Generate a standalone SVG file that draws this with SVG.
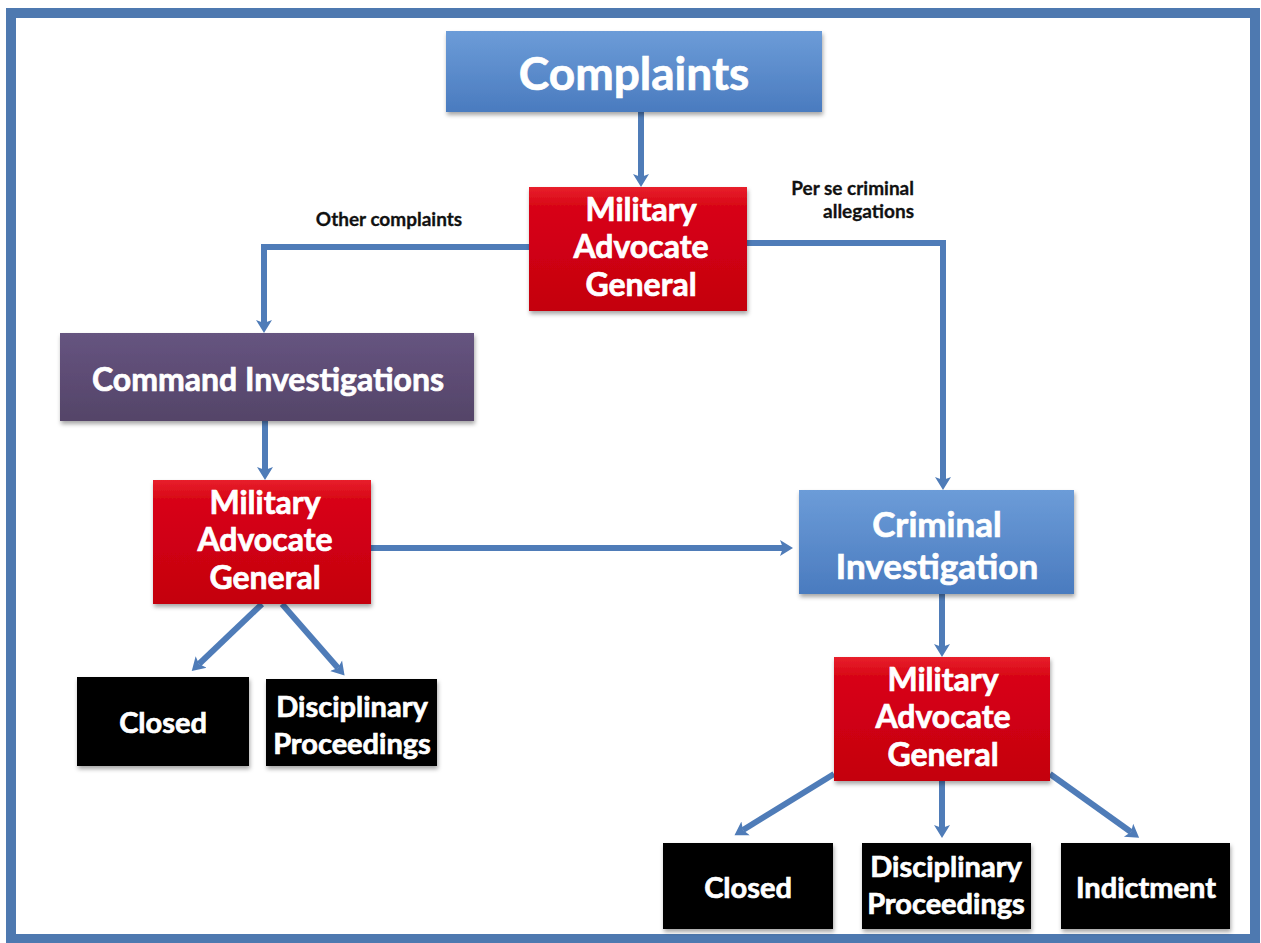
<svg xmlns="http://www.w3.org/2000/svg" width="1261" height="943" viewBox="0 0 1261 943">
<style>
.t{font-family:Lato,"Open Sans","Liberation Sans",sans-serif;font-weight:bold;fill:#fff;stroke:#fff;stroke-width:0.7;text-anchor:middle}
.lbl{font-family:Lato,"Open Sans","Liberation Sans",sans-serif;font-weight:bold;fill:#111;stroke:#111;stroke-width:0.3;font-size:19px}
.conn{fill:none;stroke:#4f7cb8;stroke-width:6}
.box{filter:url(#sh)}
</style>
<defs>
<linearGradient id="gBlue" x1="0" y1="0" x2="0" y2="1"><stop offset="0" stop-color="#6c9cd8"/><stop offset="1" stop-color="#4a7bbf"/></linearGradient>
<linearGradient id="gRed" x1="0" y1="0" x2="0" y2="1"><stop offset="0" stop-color="#e8202c"/><stop offset="0.15" stop-color="#d80616"/><stop offset="1" stop-color="#c4000e"/></linearGradient>
<linearGradient id="gPur" x1="0" y1="0" x2="0" y2="1"><stop offset="0" stop-color="#665480"/><stop offset="1" stop-color="#544468"/></linearGradient>
<filter id="sh" x="-10%" y="-10%" width="120%" height="130%"><feDropShadow dx="1" dy="3" stdDeviation="2" flood-color="#000" flood-opacity="0.35"/></filter>
<marker id="ah" markerUnits="userSpaceOnUse" markerWidth="14" markerHeight="18" viewBox="0 0 14 18" refX="3" refY="9" orient="auto"><path d="M0,1 L13,9 L0,17 L3,9 Z" fill="#4f7cb8"/></marker>
</defs>
<rect x="11" y="13" width="1244" height="926" fill="#fff" stroke="#4e79b0" stroke-width="10"/>
<g id="connectors">
<path class="conn" d="M641,112 V177" marker-end="url(#ah)"/>
<path class="conn" d="M529,247 H264 V323" marker-end="url(#ah)"/>
<path class="conn" d="M747,243 H943 V480" marker-end="url(#ah)"/>
<path class="conn" d="M265,421 V470" marker-end="url(#ah)"/>
<path class="conn" d="M371,548 H783" marker-end="url(#ah)"/>
<path class="conn" d="M262,604 L199,664" marker-end="url(#ah)"/>
<path class="conn" d="M282,604 L338,668" marker-end="url(#ah)"/>
<path class="conn" d="M942,594 V647" marker-end="url(#ah)"/>
<path class="conn" d="M834,774 L743,830" marker-end="url(#ah)"/>
<path class="conn" d="M942,781 V828" marker-end="url(#ah)"/>
<path class="conn" d="M1050,774 L1131,832" marker-end="url(#ah)"/>
<text class="lbl" x="389" y="226" text-anchor="middle">Other complaints</text>
<text class="lbl" x="914" y="195" text-anchor="end">Per se criminal</text>
<text class="lbl" x="914" y="218" text-anchor="end">allegations</text>
</g>
<g id="complaints"><rect class="box" x="446" y="31" width="376" height="81" fill="url(#gBlue)"/><text class="t" x="634" y="90" font-size="46">Complaints</text></g>
<g id="mag1"><rect class="box" x="529" y="187" width="218" height="124" fill="url(#gRed)"/><text class="t" font-size="32"><tspan x="641" y="221">Military</tspan><tspan x="641" y="258">Advocate</tspan><tspan x="641" y="296">General</tspan></text></g>
<g id="command"><rect class="box" x="60" y="333" width="414" height="88" fill="url(#gPur)"/><text class="t" x="268" y="391" font-size="32">Command Investigations</text></g>
<g id="mag2"><rect class="box" x="153" y="480" width="218" height="124" fill="url(#gRed)"/><text class="t" font-size="32"><tspan x="265" y="514">Military</tspan><tspan x="265" y="551">Advocate</tspan><tspan x="265" y="589">General</tspan></text></g>
<g id="criminal"><rect class="box" x="799" y="490" width="275" height="104" fill="url(#gBlue)"/><text class="t" font-size="35"><tspan x="937" y="537">Criminal</tspan><tspan x="937" y="579">Investigation</tspan></text></g>
<g id="mag3"><rect class="box" x="834" y="657" width="216" height="124" fill="url(#gRed)"/><text class="t" font-size="32"><tspan x="943" y="691">Military</tspan><tspan x="943" y="728">Advocate</tspan><tspan x="943" y="766">General</tspan></text></g>
<g id="closed2"><rect class="box" x="77" y="677" width="172" height="89" fill="#000"/><text class="t" x="163" y="733" font-size="29">Closed</text></g>
<g id="disc2"><rect class="box" x="266" y="679" width="171" height="87" fill="#000"/><text class="t" font-size="29"><tspan x="352" y="717">Disciplinary</tspan><tspan x="352" y="754">Proceedings</tspan></text></g>
<g id="closed3"><rect class="box" x="663" y="843" width="170" height="86" fill="#000"/><text class="t" x="748" y="898" font-size="29">Closed</text></g>
<g id="disc3"><rect class="box" x="862" y="843" width="169" height="86" fill="#000"/><text class="t" font-size="29"><tspan x="946" y="877">Disciplinary</tspan><tspan x="946" y="914">Proceedings</tspan></text></g>
<g id="indict"><rect class="box" x="1061" y="843" width="169" height="86" fill="#000"/><text class="t" x="1146" y="898" font-size="29">Indictment</text></g>
</svg>
